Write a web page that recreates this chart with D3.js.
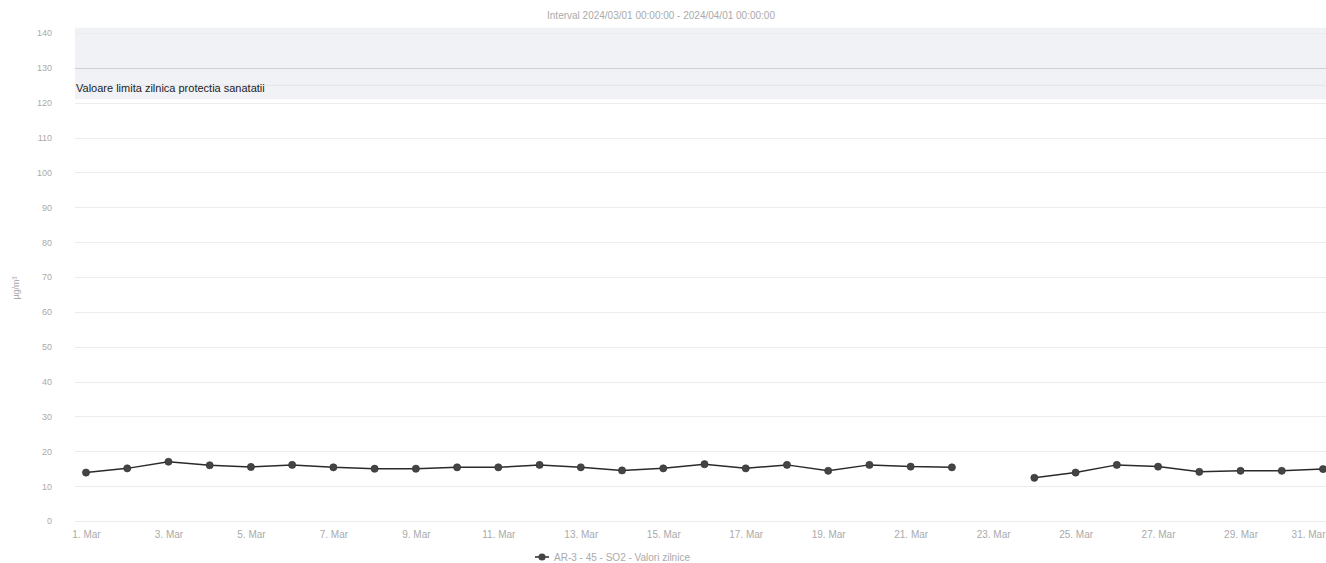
<!DOCTYPE html>
<html>
<head>
<meta charset="utf-8">
<script src="https://cdn.jsdelivr.net/npm/d3@7"></script>
<style>
  html, body { margin: 0; padding: 0; background: #fff; }
  svg { display: block; font-family: "Liberation Sans", Arial, sans-serif; }
</style>
</head>
<body>
<svg id="chart" width="1326" height="563"></svg>
<script>
// ---- data ----
const days = d3.range(1, 32);
const values = [13.9, 15.1, 17.0, 16.0, 15.5, 16.1, 15.4, 15.0, 15.0, 15.4,
                15.4, 16.1, 15.4, 14.5, 15.1, 16.3, 15.1, 16.1, 14.4, 16.1,
                15.6, 15.4, null, 12.4, 13.9, 16.1, 15.6, 14.1, 14.4, 14.4, 14.9];
const yTicks = [0, 10, 20, 30, 40, 50, 60, 70, 80, 90, 100, 110, 120, 130, 140];
const xTickDays = [1, 3, 5, 7, 9, 11, 13, 15, 17, 19, 21, 23, 25, 27, 29, 31];
const limitValue = 125;
const bandRange = [121, 141.5];
const titleText = "Interval 2024/03/01 00:00:00 - 2024/04/01 00:00:00";
const limitLabel = "Valoare limita zilnica protectia sanatatii";
const seriesName = "AR-3 - 45 - SO2 - Valori zilnice";
const yTitle = "µg/m³";

const svg = d3.select("#chart");
const plotLeft = 75, plotRight = 1326;

const date = d => new Date(Date.UTC(2024, 2, d));
const x = d3.scaleUtc().domain([date(1), date(31)]).range([86, 1323]);
const y = d3.scaleLinear().domain([0, 140]).range([521, 33]);

// shaded band near the top
svg.append("rect")
  .attr("x", plotLeft).attr("width", plotRight - plotLeft)
  .attr("y", y(bandRange[1])).attr("height", y(bandRange[0]) - y(bandRange[1]))
  .attr("fill", "#f1f2f6");

// grid lines
svg.append("g").selectAll("line").data(yTicks).join("line")
  .attr("x1", plotLeft).attr("x2", plotRight)
  .attr("y1", d => Math.round(y(d)) + 0.5).attr("y2", d => Math.round(y(d)) + 0.5)
  .attr("stroke", d => d === 130 ? "#cfcfd4" : "#ececec")
  .attr("stroke-width", 1);

// limit line
svg.append("line")
  .attr("x1", plotLeft).attr("x2", plotRight)
  .attr("y1", y(limitValue)).attr("y2", y(limitValue))
  .attr("stroke", "#e4e4e9").attr("stroke-width", 1);

svg.append("text")
  .attr("x", 76).attr("y", y(limitValue) + 7)
  .attr("font-size", 11).attr("fill", "#222")
  .text(limitLabel);

// y axis
const yAxis = d3.axisLeft(y).tickValues(yTicks).tickSize(0).tickPadding(0);
const gy = svg.append("g").attr("transform", "translate(52,0)").call(yAxis);
gy.select(".domain").remove();
gy.selectAll("text").attr("font-size", 9).attr("fill", "#aaa")
  .attr("font-family", "Liberation Sans, Arial, sans-serif");

svg.append("text")
  .attr("transform", "translate(19,288) rotate(-90)")
  .attr("text-anchor", "middle").attr("font-size", 9).attr("fill", "#aaa")
  .text(yTitle);

// x axis
const xAxis = d3.axisBottom(x).tickValues(xTickDays.map(date))
  .tickFormat(d3.utcFormat("%-d. %b")).tickSize(0).tickPadding(0);
const gx = svg.append("g").attr("transform", "translate(0,531)").call(xAxis);
gx.select(".domain").remove();
gx.selectAll("text").attr("font-size", 10).attr("fill", "#aaa")
  .attr("font-family", "Liberation Sans, Arial, sans-serif");
// keep the last label inside the picture
gx.selectAll(".tick").filter((d, i, n) => i === n.length - 1)
  .select("text").attr("text-anchor", "end").attr("x", 1325 - x(date(31)));

// title
svg.append("text")
  .attr("x", 661).attr("y", 19).attr("text-anchor", "middle")
  .attr("font-size", 10).attr("fill", "#aaa")
  .text(titleText);

// series
const pts = days.map((d, i) => ({ d: date(d), v: values[i] }));
const line = d3.line().defined(p => p.v != null)
  .x(p => x(p.d)).y(p => y(p.v));
svg.append("path").datum(pts)
  .attr("d", line).attr("fill", "none")
  .attr("stroke", "#2a2a2a").attr("stroke-width", 1.5);
svg.append("g").selectAll("circle").data(pts.filter(p => p.v != null)).join("circle")
  .attr("cx", p => x(p.d)).attr("cy", p => y(p.v)).attr("r", 3.6)
  .attr("fill", "#444").attr("stroke", "#333").attr("stroke-width", 0.6);

// legend
const lg = svg.append("g").attr("transform", "translate(535,557)");
lg.append("line").attr("x1", 0).attr("x2", 14).attr("y1", 0).attr("y2", 0)
  .attr("stroke", "#2a2a2a").attr("stroke-width", 1.5);
lg.append("circle").attr("cx", 7).attr("cy", 0).attr("r", 3.6).attr("fill", "#444");
lg.append("text").attr("x", 19).attr("y", 3.5)
  .attr("font-size", 10).attr("fill", "#aaa").text(seriesName);
</script>
</body>
</html>
